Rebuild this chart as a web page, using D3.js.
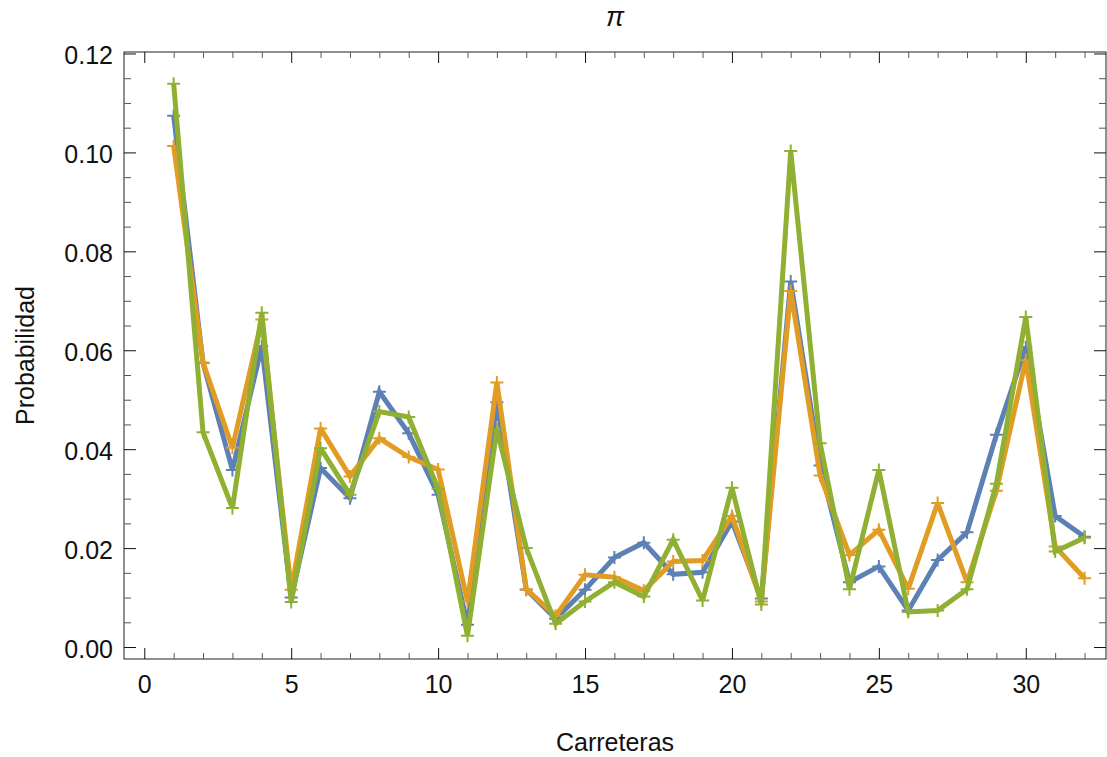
<!DOCTYPE html>
<html>
<head>
<meta charset="utf-8">
<script src="https://cdn.jsdelivr.net/npm/d3@7"></script>
<style>
  body { margin: 0; background: #fff; }
  text { font-family: "Liberation Sans", Arial, sans-serif; }
</style>
</head>
<body>
<svg id="chart" width="1107" height="757"></svg>
<script>
// carreteras 1..32
const carreteras = d3.range(1, 33);

const serieAzul = [0.1074, 0.0574, 0.0358, 0.0608, 0.0100, 0.0362, 0.0301, 0.0516, 0.0432, 0.0308,
    0.0045, 0.0495, 0.0116, 0.0057, 0.0116, 0.0181, 0.0211, 0.0147, 0.0151, 0.0254,
    0.0098, 0.0739, 0.0367, 0.0131, 0.0163, 0.0074, 0.0176, 0.0232, 0.0429, 0.0606,
    0.0265, 0.0223];
const serieNaranja = [0.1013, 0.0575, 0.0403, 0.0662, 0.0116, 0.0442, 0.0345, 0.0422, 0.0384, 0.0359,
    0.0092, 0.0535, 0.0117, 0.0063, 0.0146, 0.0141, 0.0114, 0.0173, 0.0175, 0.0265,
    0.0092, 0.0720, 0.0347, 0.0186, 0.0237, 0.0118, 0.0291, 0.0131, 0.0316, 0.0580,
    0.0203, 0.0139];
const serieVerde = [0.1139, 0.0434, 0.0281, 0.0676, 0.0091, 0.0402, 0.0308, 0.0476, 0.0465, 0.0320,
    0.0023, 0.0440, 0.0200, 0.0047, 0.0092, 0.0131, 0.0102, 0.0217, 0.0094, 0.0322,
    0.0086, 0.1003, 0.0412, 0.0117, 0.0358, 0.0071, 0.0074, 0.0117, 0.0330, 0.0667,
    0.0193, 0.0221];

const xTicks = [0, 5, 10, 15, 20, 25, 30];
const yTicks = [0, 0.02, 0.04, 0.06, 0.08, 0.10, 0.12];

const series = [
    { values: serieAzul, color: "#5e81b5" },
    { values: serieNaranja, color: "#e19c24" },
    { values: serieVerde, color: "#8fb032" }
];

const svg = d3.select("#chart");
const mLeft = 124, mRight = 1106, mTop = 52, mBottom = 659;

const x = d3.scaleLinear().domain([-0.69, 32.73]).range([mLeft, mRight]);
const y = d3.scaleLinear().domain([-0.00242, 0.1203]).range([mBottom, mTop]);

// frame
svg.append("rect")
    .attr("x", mLeft).attr("y", mTop)
    .attr("width", mRight - mLeft).attr("height", mBottom - mTop)
    .attr("fill", "none").attr("stroke", "#222").attr("stroke-width", 1);

function styleAxis(g, color) {
    g.select(".domain").remove();
    g.selectAll(".tick line").attr("stroke", color);
    g.selectAll("text").attr("font-size", 25).attr("fill", "#111")
        .attr("font-family", "'Liberation Sans', Arial, sans-serif");
}

// minor ticks
const xMinor = d3.range(0, 33).filter(d => d % 5 !== 0);
const yMinor = d3.range(0, 0.1201, 0.005).filter((d, i) => i % 4 !== 0);

svg.append("g").attr("transform", `translate(0,${mBottom})`)
    .call(d3.axisBottom(x).tickValues(xMinor).tickSize(-6).tickFormat(""))
    .call(g => styleAxis(g, "#555"));
svg.append("g").attr("transform", `translate(0,${mTop})`)
    .call(d3.axisTop(x).tickValues(xMinor).tickSize(-6).tickFormat(""))
    .call(g => styleAxis(g, "#555"));
svg.append("g").attr("transform", `translate(${mLeft},0)`)
    .call(d3.axisLeft(y).tickValues(yMinor).tickSize(-7).tickFormat(""))
    .call(g => styleAxis(g, "#555"));
svg.append("g").attr("transform", `translate(${mRight},0)`)
    .call(d3.axisRight(y).tickValues(yMinor).tickSize(-7).tickFormat(""))
    .call(g => styleAxis(g, "#555"));

// major ticks
svg.append("g").attr("transform", `translate(0,${mBottom})`)
    .call(d3.axisBottom(x).tickValues(xTicks).tickSize(-11).tickPadding(16).tickFormat(d3.format("d")))
    .call(g => styleAxis(g, "#111"));
svg.append("g").attr("transform", `translate(0,${mTop})`)
    .call(d3.axisTop(x).tickValues(xTicks).tickSize(-11).tickFormat(""))
    .call(g => styleAxis(g, "#111"));
svg.append("g").attr("transform", `translate(${mLeft},0)`)
    .call(d3.axisLeft(y).tickValues(yTicks).tickSize(-12).tickPadding(11).tickFormat(d3.format(".2f")))
    .call(g => styleAxis(g, "#111"))
    .call(g => g.selectAll("text").attr("dy", "0.42em"));
svg.append("g").attr("transform", `translate(${mRight},0)`)
    .call(d3.axisRight(y).tickValues(yTicks).tickSize(-12).tickFormat(""))
    .call(g => styleAxis(g, "#111"));

// lines and markers
const line = d3.line()
    .x((d, i) => x(carreteras[i]))
    .y(d => y(d));

const plot = svg.append("g");
series.forEach(s => {
    plot.append("path")
        .datum(s.values)
        .attr("d", line)
        .attr("fill", "none")
        .attr("stroke", s.color)
        .attr("stroke-width", 5)
        .attr("stroke-linejoin", "miter")
        .attr("stroke-miterlimit", 2.5);
    const half = 6.5;
    plot.selectAll(null)
        .data(s.values)
        .enter()
        .append("path")
        .attr("d", (d, i) => {
            const cx = x(carreteras[i]), cy = y(d);
            return `M${cx - half},${cy}H${cx + half}M${cx},${cy - half}V${cy + half}`;
        })
        .attr("stroke", s.color)
        .attr("stroke-width", 2)
        .attr("fill", "none");
});

// titles
svg.append("text")
    .attr("x", (mLeft + mRight) / 2).attr("y", 26)
    .attr("text-anchor", "middle")
    .attr("font-size", 27)
    .attr("font-style", "italic")
    .attr("fill", "#111")
    .text("π");

svg.append("text")
    .attr("x", (mLeft + mRight) / 2).attr("y", 751)
    .attr("text-anchor", "middle")
    .attr("font-size", 25)
    .attr("fill", "#111")
    .text("Carreteras");

svg.append("text")
    .attr("transform", `translate(34,${(mTop + mBottom) / 2}) rotate(-90)`)
    .attr("text-anchor", "middle")
    .attr("font-size", 25)
    .attr("fill", "#111")
    .text("Probabilidad");
</script>
</body>
</html>
